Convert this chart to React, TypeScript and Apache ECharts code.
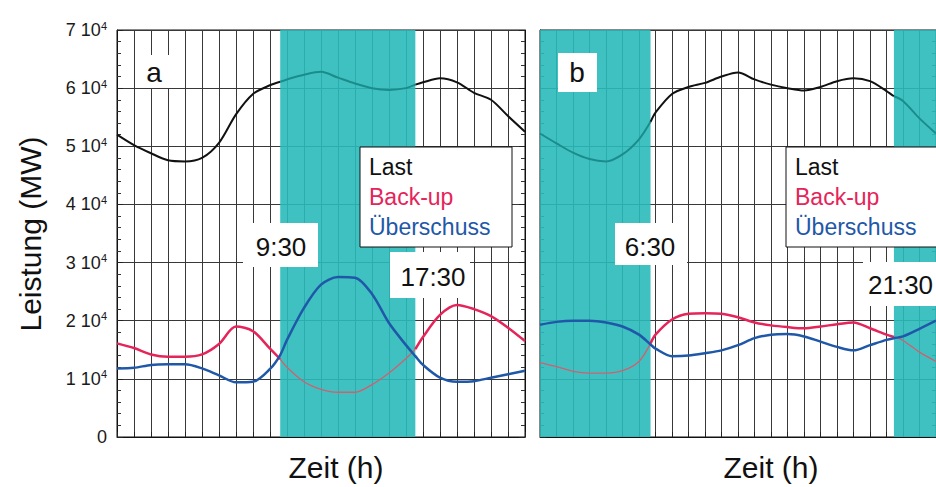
import React, { useEffect, useRef } from "react";
import * as echarts from "echarts";

// Panel a (hours, MW)
const hoursA = [0, 1, 2, 3, 4, 5, 6, 7, 8, 9, 9.6, 10, 11, 12, 13, 14, 15, 16, 17, 17.55, 18, 19, 20, 21, 22, 23, 24];
const lastA = [52000, 50200, 48800, 47600, 47400, 48000, 50600, 55500, 59000, 60500, 61100, 61500, 62300, 62800, 61800, 60800, 60000, 59700, 60000, 60600, 61000, 61700, 61000, 59200, 58000, 55200, 52500];
const backupA = [16100, 15300, 14200, 13800, 13800, 14200, 16000, 19000, 18200, 15200, 13400, 12000, 9500, 8200, 7700, 7700, 9000, 11000, 13500, 15100, 17200, 21000, 22700, 22000, 20800, 18800, 16500];
const surplusA = [11800, 11900, 12400, 12500, 12500, 11800, 10600, 9400, 9500, 11700, 14100, 16700, 22200, 26200, 27500, 27400, 24600, 19600, 15800, 13900, 12400, 10200, 9500, 9600, 10200, 10800, 11400];
const shadeA = [[9.6, 17.55]];

// Panel b
const hoursB = [0, 1, 2, 3, 4, 5, 6, 6.7, 7, 8, 9, 10, 11, 12, 13, 14, 15, 16, 17, 18, 19, 20, 21, 21.45, 22, 23, 24];
const lastB = [52200, 50500, 48900, 47800, 47400, 48600, 51200, 54200, 55800, 59000, 60200, 60900, 62000, 62700, 61500, 60600, 60000, 59600, 60200, 61200, 61700, 61200, 59500, 58600, 57800, 54800, 52200];
const backupB = [12800, 12100, 11300, 11000, 11000, 11400, 13000, 16100, 17600, 20200, 21200, 21300, 21200, 20600, 19700, 19200, 18900, 18700, 19000, 19400, 19700, 18700, 17600, 17200, 16600, 14600, 13000];
const surplusB = [19300, 19800, 20000, 20000, 19700, 19000, 17600, 15900, 15200, 13900, 14000, 14400, 14900, 15800, 17000, 17600, 17700, 17300, 16400, 15500, 14900, 15800, 16700, 17000, 17300, 18600, 20000];
const shadeB = [[0, 6.7], [21.45, 24]];

const legendNames = ["Last", "Back-up", "Überschuss"];
const panelLabels = ["a", "b"];
const timeLabelsA = ["9:30", "17:30"];
const timeLabelsB = ["6:30", "21:30"];

const FONT = "'Liberation Sans', Arial, Helvetica, sans-serif";
const C_LAST = "#111111";
const C_LAST_IN = "#1b8c8c";
const C_BACK = "#e5245a";
const C_BACK_IN = "#cf6070";
const C_SUR = "#1f58a8";
const C_SHADE = "#2bbaba";
const C_GRID = "#383838";

const inClosed = (h: number, s: number[][]) => s.some(([a, b]) => h >= a && h <= b);
const inOpen = (h: number, s: number[][]) => s.some(([a, b]) => h > a && h < b);

function panelSeries(p: number, hours: number[], last: number[], backup: number[], surplus: number[], shades: number[][]) {
  const outside = (vals: number[]) => hours.map((h, i) => [h, inOpen(h, shades) ? null : vals[i]]);
  const inside = (vals: number[]) => hours.map((h, i) => [h, inClosed(h, shades) ? vals[i] : null]);
  const base = { type: "line", xAxisIndex: p, yAxisIndex: p * 2, showSymbol: false, symbol: "none", smooth: 0.3, silent: true };
  return [
    {
      ...base, name: "Last", data: outside(last), z: 3,
      lineStyle: { color: C_LAST, width: 2 },
      markArea: {
        silent: true,
        itemStyle: { color: C_SHADE, opacity: 0.9 },
        data: shades.map(([a, b]) => [{ xAxis: a }, { xAxis: b }]),
      },
    },
    { ...base, name: "Last-in", data: inside(last), z: 3, lineStyle: { color: C_LAST_IN, width: 2 } },
    { ...base, name: "Back-up", data: outside(backup), z: 4, lineStyle: { color: C_BACK, width: 2.5 } },
    { ...base, name: "Back-up-in", data: inside(backup), z: 4, lineStyle: { color: C_BACK_IN, width: 1.3 } },
    { ...base, name: "Überschuss", data: hours.map((h, i) => [h, surplus[i]]), z: 5, lineStyle: { color: C_SUR, width: 2.5 } },
  ];
}

function yAxis(grid: number, position: string, labels: boolean, split: boolean) {
  return {
    type: "value", gridIndex: grid, position, min: 0, max: 70000, interval: 10000,
    axisLine: { show: true, lineStyle: { color: "#111", width: 1 } },
    axisTick: { show: true, inside: true, length: 6, lineStyle: { color: "#222" } },
    minorTick: { show: true, splitNumber: 5, length: 4, lineStyle: { color: "#333" } },
    splitLine: { show: split, lineStyle: { color: C_GRID, width: 1 } },
    axisLabel: {
      show: labels, margin: 10,
      formatter: (v: number) => (v === 0 ? "{a|0}" : `{a|${v / 10000} 10}{s|4}`),
      rich: {
        a: { fontSize: 18, fontFamily: FONT, color: "#1a1a1a", lineHeight: 20 },
        s: { fontSize: 11, fontFamily: FONT, color: "#1a1a1a", lineHeight: 10, verticalAlign: "top" },
      },
    },
  };
}

function xAxis(grid: number) {
  return {
    type: "value", gridIndex: grid, min: 0, max: 24, interval: 1,
    axisLine: { show: true, onZero: false, lineStyle: { color: "#111", width: 1 } },
    axisTick: { show: true, inside: true, length: 5, lineStyle: { color: "#222" } },
    axisLabel: { show: false },
    splitLine: { show: true, lineStyle: { color: C_GRID, width: 1 } },
  };
}

function box(x: number, y: number, w: number, h: number, stroke?: string) {
  return {
    type: "rect", z: 100, silent: true,
    shape: { x, y, width: w, height: h },
    style: { fill: "#ffffff", stroke: stroke || "none", lineWidth: stroke ? 1 : 0 },
  };
}

function txt(text: string, x: number, y: number, size: number, color = "#111", align = "center") {
  return {
    type: "text", z: 101, silent: true, x, y,
    style: { text, font: `${size}px ${FONT}`, fill: color, align, verticalAlign: "middle" },
  };
}

export default function App() {
  const ref = useRef<HTMLDivElement>(null);
  useEffect(() => {
    document.body.style.margin = "0";
    const chart = echarts.init(ref.current as HTMLDivElement, null, { renderer: "svg" });
    const legendColors = [C_LAST, C_BACK, C_SUR];
    const legend = (x: number) => [
      box(x, 147, 152, 100, "#111"),
      ...legendNames.map((n, i) => txt(n, x + 9, 167 + i * 30, 23, legendColors[i], "left")),
    ];
    chart.setOption({
      animation: false,
      backgroundColor: "#ffffff",
      grid: [
        { left: 117, top: 30, width: 408, height: 407, show: true, borderColor: "#111", borderWidth: 1, backgroundColor: "#fff" },
        { left: 540, top: 30, width: 408, height: 407, show: true, borderColor: "#111", borderWidth: 1, backgroundColor: "#fff" },
      ],
      xAxis: [xAxis(0), xAxis(1)],
      yAxis: [
        yAxis(0, "left", true, true),
        yAxis(0, "right", false, false),
        yAxis(1, "left", false, true),
        yAxis(1, "right", false, false),
      ],
      series: [
        ...panelSeries(0, hoursA, lastA, backupA, surplusA, shadeA),
        ...panelSeries(1, hoursB, lastB, backupB, surplusB, shadeB),
      ],
      graphic: [
        box(136, 55, 37, 33),
        txt(panelLabels[0], 154, 72, 28),
        box(558, 53, 39, 39),
        txt(panelLabels[1], 577, 72, 28),
        box(243, 223, 75, 44),
        txt(timeLabelsA[0], 281, 247, 26),
        box(390, 252, 80, 46),
        txt(timeLabelsA[1], 433, 277, 26),
        box(615, 223, 72, 42),
        txt(timeLabelsB[0], 650, 247, 26),
        box(863, 262, 80, 44),
        txt(timeLabelsB[1], 868, 285, 26, "#111", "left"),
        ...legend(360),
        ...legend(786),
        { type: "text", z: 101, silent: true, x: 30, y: 234, rotation: Math.PI / 2,
          style: { text: "Leistung (MW)", font: `30px ${FONT}`, fill: "#111", align: "center", verticalAlign: "middle" } },
        txt("Zeit (h)", 336, 467, 30),
        txt("Zeit (h)", 771, 467, 30),
      ],
    });
    return () => chart.dispose();
  }, []);
  return <div ref={ref} style={{ position: "absolute", left: 0, top: 0, width: 936, height: 487 }} />;
}
